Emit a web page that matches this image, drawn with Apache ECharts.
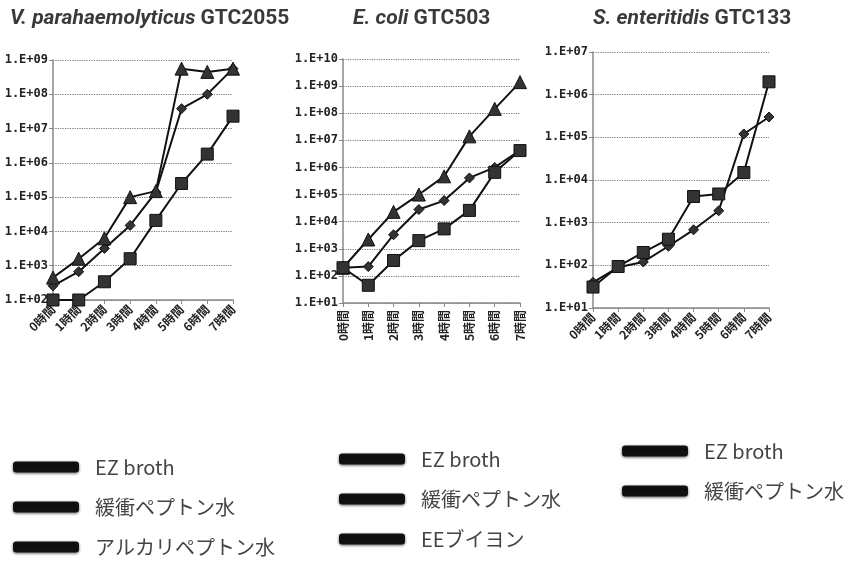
<!DOCTYPE html>
<html>
<head>
<meta charset="utf-8">
<script src="https://cdn.jsdelivr.net/npm/echarts@6/dist/echarts.min.js"></script>
<style>
  html, body { margin: 0; padding: 0; background: #fff; }
  #chart { width: 854px; height: 566px; }
</style>
</head>
<body>
<div id="chart"></div>
<script>
// 時間軸（共通）
const hours = ['0時間', '1時間', '2時間', '3時間', '4時間', '5時間', '6時間', '7時間'];

// 凡例名
const seriesNames1 = ['EZ broth', '緩衝ペプトン水', 'アルカリペプトン水'];
const seriesNames2 = ['EZ broth', '緩衝ペプトン水', 'EEブイヨン'];
const seriesNames3 = ['EZ broth', '緩衝ペプトン水'];

// V. parahaemolyticus GTC2055
const vpEz = [2.6e2, 6.7e2, 3.2e3, 1.5e4, 1.4e5, 3.8e7, 1.0e8, 5.6e8];
const vpBuffer = [1e2, 1e2, 3.4e2, 1.6e3, 2.1e4, 2.5e5, 1.8e6, 2.3e7];
const vpAlkali = [4.5e2, 1.6e3, 6.3e3, 1.0e5, 1.5e5, 5.6e8, 4.5e8, 5.6e8];

// E. coli GTC503
const ecEz = [2e2, 2.2e2, 3.3e3, 2.8e4, 6e4, 4.1e5, 1.0e6, 4.3e6];
const ecBuffer = [2e2, 45, 3.7e2, 2e3, 5.4e3, 2.6e4, 6.6e5, 4.2e6];
const ecEe = [2e2, 2.2e3, 2.3e4, 1.0e5, 4.7e5, 1.4e7, 1.45e8, 1.4e9];

// S. enteritidis GTC133
const seEz = [40, 90, 1.2e2, 2.8e2, 6.8e2, 1.9e3, 1.2e5, 3e5];
const seBuffer = [31, 94, 2e2, 4.1e2, 4.1e3, 4.7e3, 1.5e4, 2e6];

// 軸の範囲
const yRanges = [[1e2, 1e9], [1e1, 1e10], [1e1, 1e7]];

const chart = echarts.init(document.getElementById('chart'));

const expLabel = v => '1.E+' + String(Math.round(Math.log10(v))).padStart(2, '0');

const grids = [
  { left: 53, top: 60, width: 180, height: 240 },
  { left: 343, top: 59, width: 177, height: 244 },
  { left: 593, top: 52, width: 176, height: 256 }
];

const xAxes = grids.map((g, i) => ({
  type: 'category',
  gridIndex: i,
  data: hours,
  boundaryGap: false,
  axisLine: { lineStyle: { color: '#888', width: 1.5 } },
  axisTick: { show: true, length: 4, lineStyle: { color: '#888' } },
  axisLabel: {
    rotate: i === 1 ? 90 : 45,
    interval: 0,
    margin: 7,
    color: '#222',
    fontSize: 12,
    fontWeight: 'bold',
    fontFamily: 'Noto Sans CJK JP'
  }
}));

const yAxes = yRanges.map((r, i) => ({
  type: 'log',
  logBase: 10,
  gridIndex: i,
  min: r[0],
  max: r[1],
  splitNumber: Math.round(Math.log10(r[1] / r[0])),
  axisLine: { show: true, lineStyle: { color: '#888', width: 1.5 } },
  axisTick: { show: true, length: 4, lineStyle: { color: '#888' } },
  splitLine: { show: true, lineStyle: { color: '#777', type: 'dotted', width: 1.2 } },
  minorTick: { show: false },
  axisLabel: {
    formatter: expLabel,
    color: '#222',
    fontSize: 12,
    fontWeight: 'bold',
    fontFamily: 'DejaVu Sans Mono',
    margin: 5
  }
}));

const markerOf = k => ({
  diamond: { symbol: 'diamond', symbolSize: 10 },
  square: { symbol: 'rect', symbolSize: 12 },
  triangle: { symbol: 'triangle', symbolSize: 13 }
})[k];

function mk(name, data, idx, marker) {
  return Object.assign({
    name: name,
    type: 'line',
    xAxisIndex: idx,
    yAxisIndex: idx,
    data: data,
    showAllSymbol: true,
    lineStyle: { color: '#111', width: 2 },
    itemStyle: { color: '#333', borderColor: '#111', borderWidth: 1 },
    emphasis: { disabled: true },
    z: marker === 'square' ? 3 : 2
  }, markerOf(marker));
}

const series = [
  mk(seriesNames1[0], vpEz, 0, 'diamond'),
  mk(seriesNames1[1], vpBuffer, 0, 'square'),
  mk(seriesNames1[2], vpAlkali, 0, 'triangle'),
  mk(seriesNames2[0], ecEz, 1, 'diamond'),
  mk(seriesNames2[1], ecBuffer, 1, 'square'),
  mk(seriesNames2[2], ecEe, 1, 'triangle'),
  mk(seriesNames3[0], seEz, 2, 'diamond'),
  mk(seriesNames3[1], seBuffer, 2, 'square')
];

const titleRich = {
  i: { fontStyle: 'italic', fontWeight: 'bold', fontSize: 21, color: '#3a3a3a', fontFamily: 'Roboto' },
  b: { fontWeight: 'bold', fontSize: 21, color: '#3a3a3a', fontFamily: 'Roboto' }
};

const legendBase = {
  orient: 'vertical',
  icon: 'roundRect',
  itemWidth: 64,
  itemHeight: 9,
  itemGap: 20,
  selectedMode: false,
  itemStyle: { color: '#111', shadowBlur: 3, shadowColor: 'rgba(0,0,0,0.5)', shadowOffsetY: 1 },
  textStyle: { fontSize: 20, color: '#444', fontFamily: 'Noto Sans CJK JP', padding: [0, 0, 0, 12] }
};

chart.setOption({
  animation: false,
  title: [
    { text: '{i|V. parahaemolyticus} {b|GTC2055}', left: 5, top: 3, textStyle: { rich: titleRich } },
    { text: '{i|E. coli} {b|GTC503}', left: 348, top: 3, textStyle: { rich: titleRich } },
    { text: '{i|S. enteritidis} {b|GTC133}', left: 588, top: 3, textStyle: { rich: titleRich } }
  ],
  grid: grids,
  xAxis: xAxes,
  yAxis: yAxes,
  legend: [
    Object.assign({}, legendBase, { left: 8, top: 452, data: seriesNames1 }),
    Object.assign({}, legendBase, { left: 334, top: 444, data: seriesNames2 }),
    Object.assign({}, legendBase, { left: 617, top: 436, data: seriesNames3 })
  ],
  series: series
});
</script>
</body>
</html>
